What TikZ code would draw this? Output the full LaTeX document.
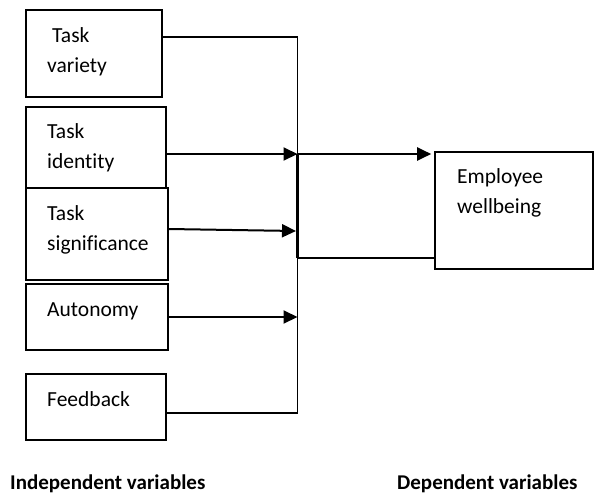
\documentclass[tikz,border=0pt]{standalone}
\usepackage{fontspec}
\setmainfont{Carlito}[Ligatures=NoCommon]
\usetikzlibrary{arrows.meta,positioning}

\begin{document}
\begin{tikzpicture}[
        x=1pt, y=-1pt,
        varbox/.style={draw, rectangle, line width=1.6pt, inner sep=0pt},
        vartext/.style={anchor=base west, inner sep=0pt, align=left, font=\fontsize{21.5}{30}\selectfont},
        link/.style={line width=1.4pt},
        arrowlink/.style={line width=2pt, -{Triangle[length=14pt, width=13pt]}},
        heading/.style={anchor=base west, inner sep=0pt, font=\fontsize{21}{24}\selectfont\bfseries}
    ]
        \useasboundingbox (0,0) rectangle (594,493);

        % Boxes of the independent variables
        \node[varbox, minimum width=136pt, minimum height=87pt] (var) at (94,53.5) {};
        \node[varbox, minimum width=140pt, minimum height=81pt] (ident) at (96,147.5) {};
        \node[varbox, minimum width=142pt, minimum height=92pt] (sig) at (97,234) {};
        \node[varbox, minimum width=142pt, minimum height=66pt] (auto) at (97,317) {};
        \node[varbox, minimum width=140pt, minimum height=66pt] (feed) at (96,407) {};

        % Box of the dependent variable
        \node[varbox, minimum width=158pt, minimum height=117pt] (well) at (514,210.5) {};

        % Texts (base = last line)
        \node[vartext] (varT) at (47,72) {\hspace*{5pt}Task\\variety};
        \node[vartext] (identT) at (47,168) {Task\\identity};
        \node[vartext] (sigT) at (47,250) {Task\\significance};
        \node[vartext] (autoT) at (47,316) {Autonomy};
        \node[vartext] (feedT) at (47,406) {Feedback};
        \node[vartext] (wellT) at (457,213) {Employee\\wellbeing};

        % Bus
        \coordinate (busTop) at (297.5,37);
        \coordinate (busBot) at (297.5,413);
        \coordinate (joinA) at (297.5,154);
        \coordinate (joinB) at (297.5,258);
        \coordinate (sigIn) at (296,231);

        \draw[link] (var.east |- busTop) -| (busBot) -- (feed.east |- busBot);
        \draw[line width=3pt] (joinA) -- (joinB);

        % Arrows into the bus
        \draw[arrowlink] (ident.east |- joinA) -- (joinA);
        \draw[arrowlink] ([yshift=5pt]sig.east) -- (sigIn);
        \draw[arrowlink] (auto.east) -- (auto.east -| busTop);

        % Links to the dependent variable
        \draw[arrowlink, shorten >=3pt] (joinA) -- (well.west |- joinA);
        \draw[link] (joinB) -- (well.west |- joinB);

        % Headings
        \node[heading] (indep) at (10,489) {Independent variables};
        \node[heading] (dep) at (397,489) {Dependent variables};

    \end{tikzpicture}
\end{document}
